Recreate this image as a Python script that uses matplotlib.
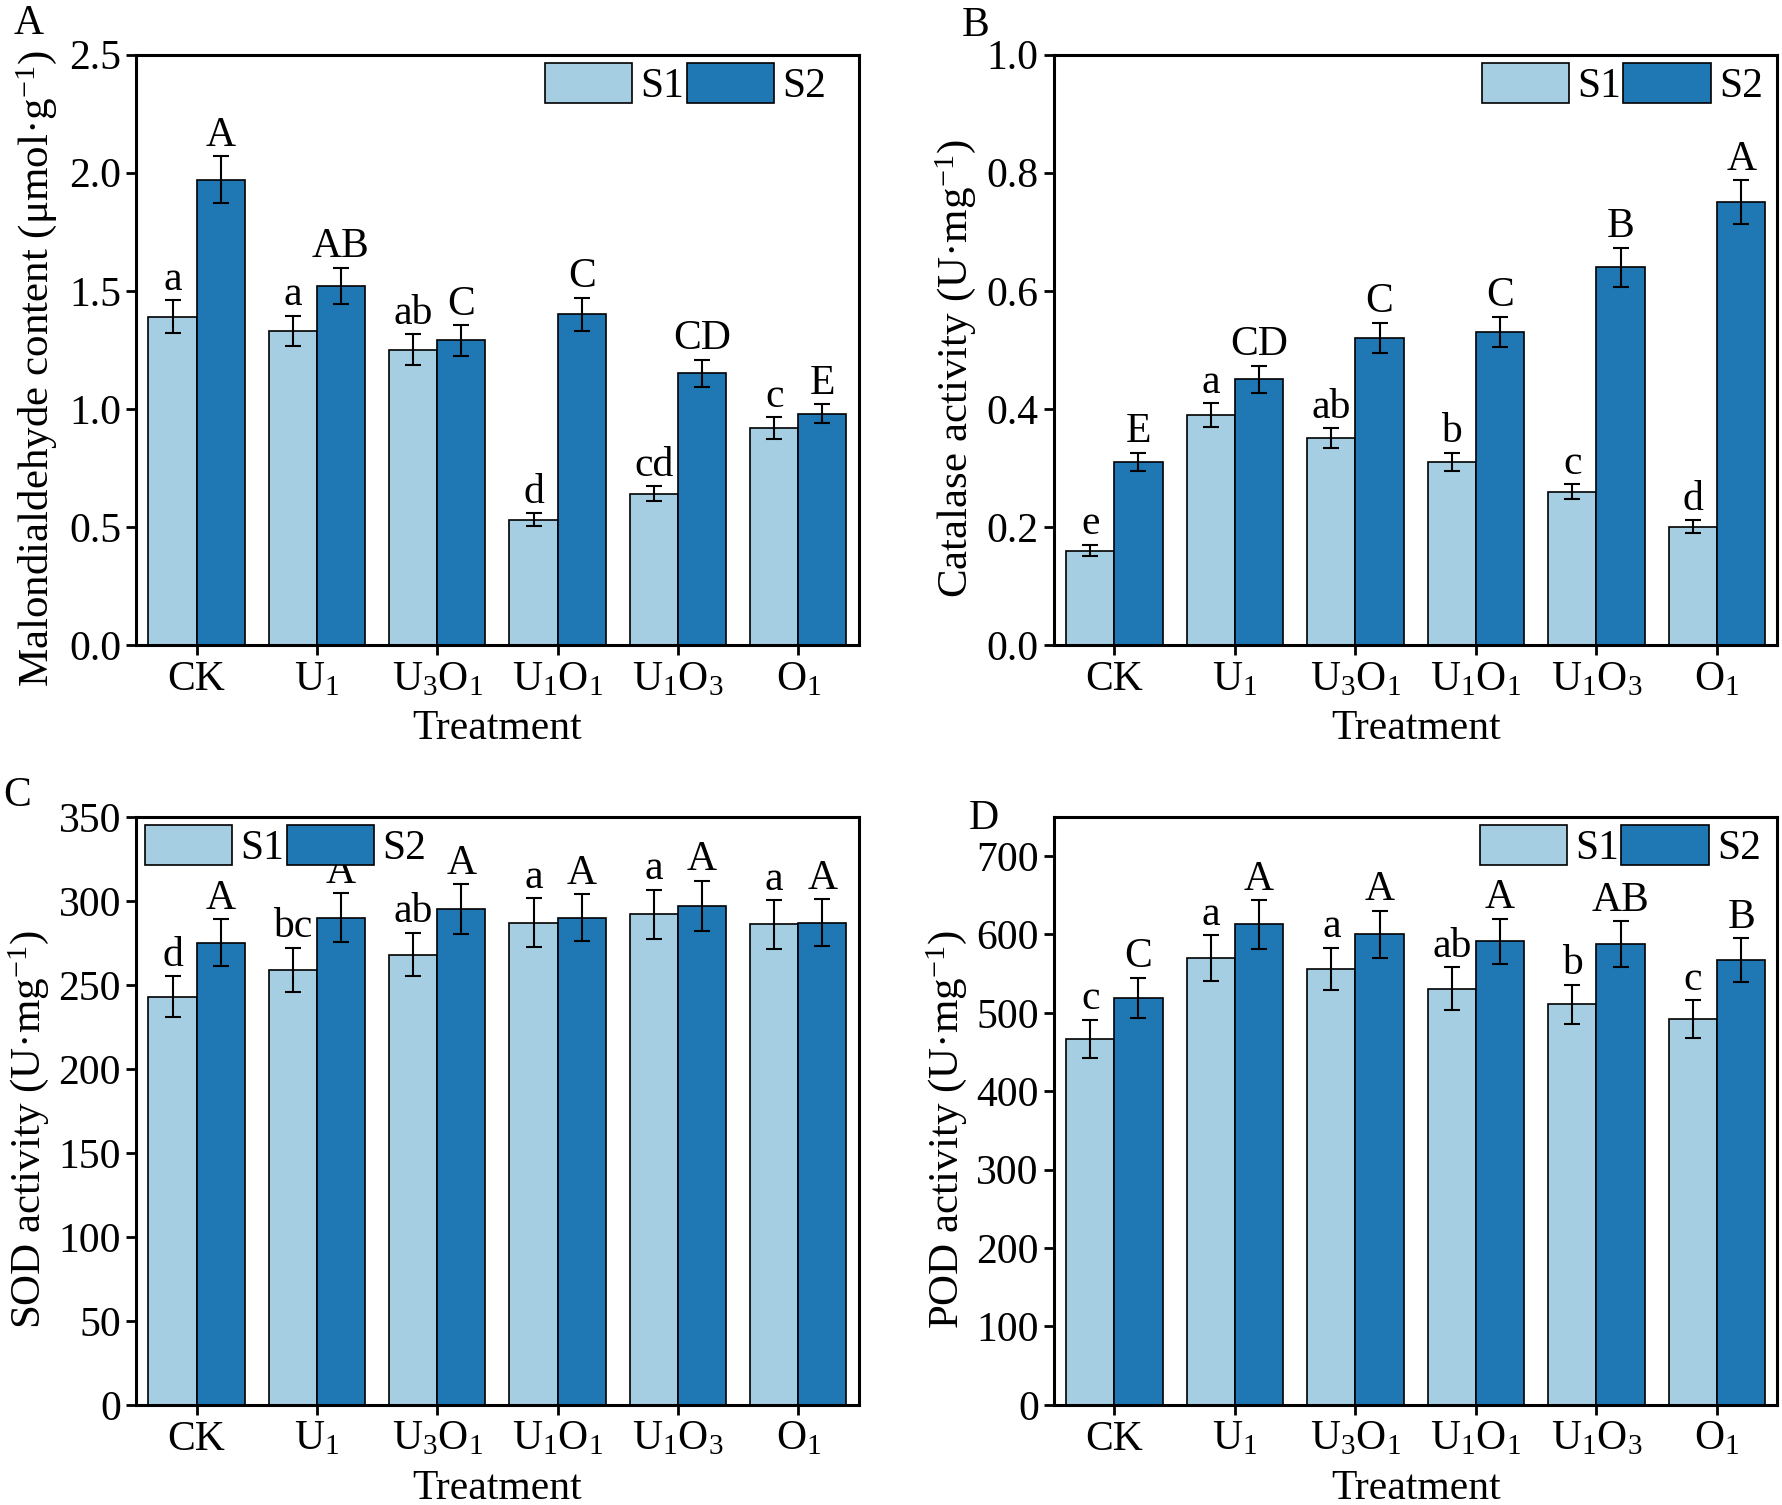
import matplotlib
matplotlib.use("Agg")
import matplotlib.pyplot as plt
import numpy as np

plt.rcParams["font.family"] = ["Liberation Serif", "DejaVu Serif"]
plt.rcParams["mathtext.fontset"] = "custom"
plt.rcParams["mathtext.rm"] = "Liberation Serif"
plt.rcParams["mathtext.it"] = "Liberation Serif:italic"
plt.rcParams["mathtext.bf"] = "Liberation Serif:bold"

treatments = [r"CK", r"U$_1$", r"U$_3$O$_1$", r"U$_1$O$_1$", r"U$_1$O$_3$", r"O$_1$"]

# A: malondialdehyde
mda_s1 = [1.39, 1.33, 1.25, 0.53, 0.64, 0.92]
mda_s1_err = [0.07, 0.065, 0.065, 0.028, 0.032, 0.046]
mda_s2 = [1.97, 1.52, 1.29, 1.40, 1.15, 0.98]
mda_s2_err = [0.10, 0.077, 0.065, 0.07, 0.058, 0.04]
mda_s1_lab = ["a", "a", "ab", "d", "cd", "c"]
mda_s2_lab = ["A", "AB", "C", "C", "CD", "E"]

# B: catalase
cat_s1 = [0.16, 0.39, 0.35, 0.31, 0.26, 0.20]
cat_s1_err = [0.01, 0.02, 0.017, 0.016, 0.012, 0.011]
cat_s2 = [0.31, 0.45, 0.52, 0.53, 0.64, 0.75]
cat_s2_err = [0.016, 0.023, 0.026, 0.026, 0.033, 0.037]
cat_s1_lab = ["e", "a", "ab", "b", "c", "d"]
cat_s2_lab = ["E", "CD", "C", "C", "B", "A"]

# C: SOD
sod_s1 = [243, 259, 268, 287, 292, 286]
sod_s1_err = [12, 13, 13, 14.5, 14.5, 14.5]
sod_s2 = [275, 290, 295, 290, 297, 287]
sod_s2_err = [14, 14.5, 15, 14, 15, 14]
sod_s1_lab = ["d", "bc", "ab", "a", "a", "a"]
sod_s2_lab = ["A", "A", "A", "A", "A", "A"]

# D: POD
pod_s1 = [467, 570, 556, 531, 511, 492]
pod_s1_err = [24, 29, 27, 27, 25, 24]
pod_s2 = [519, 613, 600, 591, 588, 567]
pod_s2_err = [26, 31, 30, 29, 29, 28]
pod_s1_lab = ["c", "a", "a", "ab", "b", "c"]
pod_s2_lab = ["C", "A", "A", "A", "AB", "B"]

c1 = "#a6cee3"
c2 = "#1f78b4"
fs = 30

fig = plt.figure(figsize=(17.83, 15.05), dpi=100)

panels = [
    dict(rect=[0.0765, 0.5714, 0.405, 0.3923], s1=mda_s1, e1=mda_s1_err, s2=mda_s2, e2=mda_s2_err,
         l1=mda_s1_lab, l2=mda_s2_lab, ylim=(0, 2.5), ticks=np.arange(0, 2.51, 0.5), fmt="%.1f",
         ylabel=r"Malondialdehyde content (μmol·g$^{-1}$)", tag="A", tagpos=(0.016, 0.984),
         legloc="upper right", legx=0.967, ylx=-0.107),
    dict(rect=[0.5912, 0.5714, 0.4056, 0.3923], s1=cat_s1, e1=cat_s1_err, s2=cat_s2, e2=cat_s2_err,
         l1=cat_s1_lab, l2=cat_s2_lab, ylim=(0, 1.0), ticks=np.arange(0, 1.01, 0.2), fmt="%.1f",
         ylabel=r"Catalase activity (U·mg$^{-1}$)", tag="B", tagpos=(0.547, 0.983),
         legloc="upper right", legx=0.992, ylx=-0.105),
    dict(rect=[0.0765, 0.0665, 0.405, 0.3908], s1=sod_s1, e1=sod_s1_err, s2=sod_s2, e2=sod_s2_err,
         l1=sod_s1_lab, l2=sod_s2_lab, ylim=(0, 350), ticks=np.arange(0, 351, 50), fmt="%d",
         ylabel=r"SOD activity (U·mg$^{-1}$)", tag="C", tagpos=(0.0096, 0.471),
         legloc="upper left", legx=0.0, ylx=-0.118),
    dict(rect=[0.5912, 0.0665, 0.4056, 0.3908], s1=pod_s1, e1=pod_s1_err, s2=pod_s2, e2=pod_s2_err,
         l1=pod_s1_lab, l2=pod_s2_lab, ylim=(0, 750), ticks=np.arange(0, 701, 100), fmt="%d",
         ylabel=r"POD activity (U·mg$^{-1}$)", tag="D", tagpos=(0.552, 0.456),
         legloc="upper right", legx=0.989, ylx=-0.118),
]

x = np.arange(len(treatments))
w = 0.4

for p in panels:
    ax = fig.add_axes(p["rect"])
    ax.bar(x - w / 2, p["s1"], w, yerr=p["e1"], color=c1, edgecolor="black", linewidth=1.2,
           label="S1", error_kw=dict(ecolor="black", elinewidth=1.5, capsize=6, capthick=1.5))
    ax.bar(x + w / 2, p["s2"], w, yerr=p["e2"], color=c2, edgecolor="black", linewidth=1.2,
           label="S2", error_kw=dict(ecolor="black", elinewidth=1.5, capsize=6, capthick=1.5))
    for i in range(len(x)):
        ax.annotate(p["l1"][i], (x[i] - w / 2, p["s1"][i] + p["e1"][i]), xytext=(0, 1),
                    textcoords="offset points", ha="center", va="bottom", fontsize=fs)
        ax.annotate(p["l2"][i], (x[i] + w / 2, p["s2"][i] + p["e2"][i]), xytext=(0, 1),
                    textcoords="offset points", ha="center", va="bottom", fontsize=fs)
    ax.set_xlim(-0.5, 5.5)
    ax.set_ylim(*p["ylim"])
    ax.set_yticks(p["ticks"])
    ax.set_yticklabels([p["fmt"] % t for t in p["ticks"]])
    ax.set_xticks(x)
    ax.set_xticklabels(treatments)
    ax.tick_params(axis="both", labelsize=fs, width=2, length=7, direction="out", pad=4)
    for s in ax.spines.values():
        s.set_linewidth(2.2)
    ax.set_xlabel("Treatment", fontsize=fs, labelpad=8)
    ax.set_ylabel(p["ylabel"], fontsize=31)
    ax.yaxis.set_label_coords(p["ylx"], 0.468)
    ax.legend(loc=p["legloc"], bbox_to_anchor=(p["legx"], 1.0), ncol=2, frameon=False,
              fontsize=fs, handlelength=2.1, handleheight=1.1, handletextpad=0.2,
              columnspacing=0.05, borderaxespad=0.1, borderpad=0.1)
    fig.text(p["tagpos"][0], p["tagpos"][1], p["tag"], fontsize=fs, ha="center", va="center")

fig.savefig("out.png", dpi=100)
